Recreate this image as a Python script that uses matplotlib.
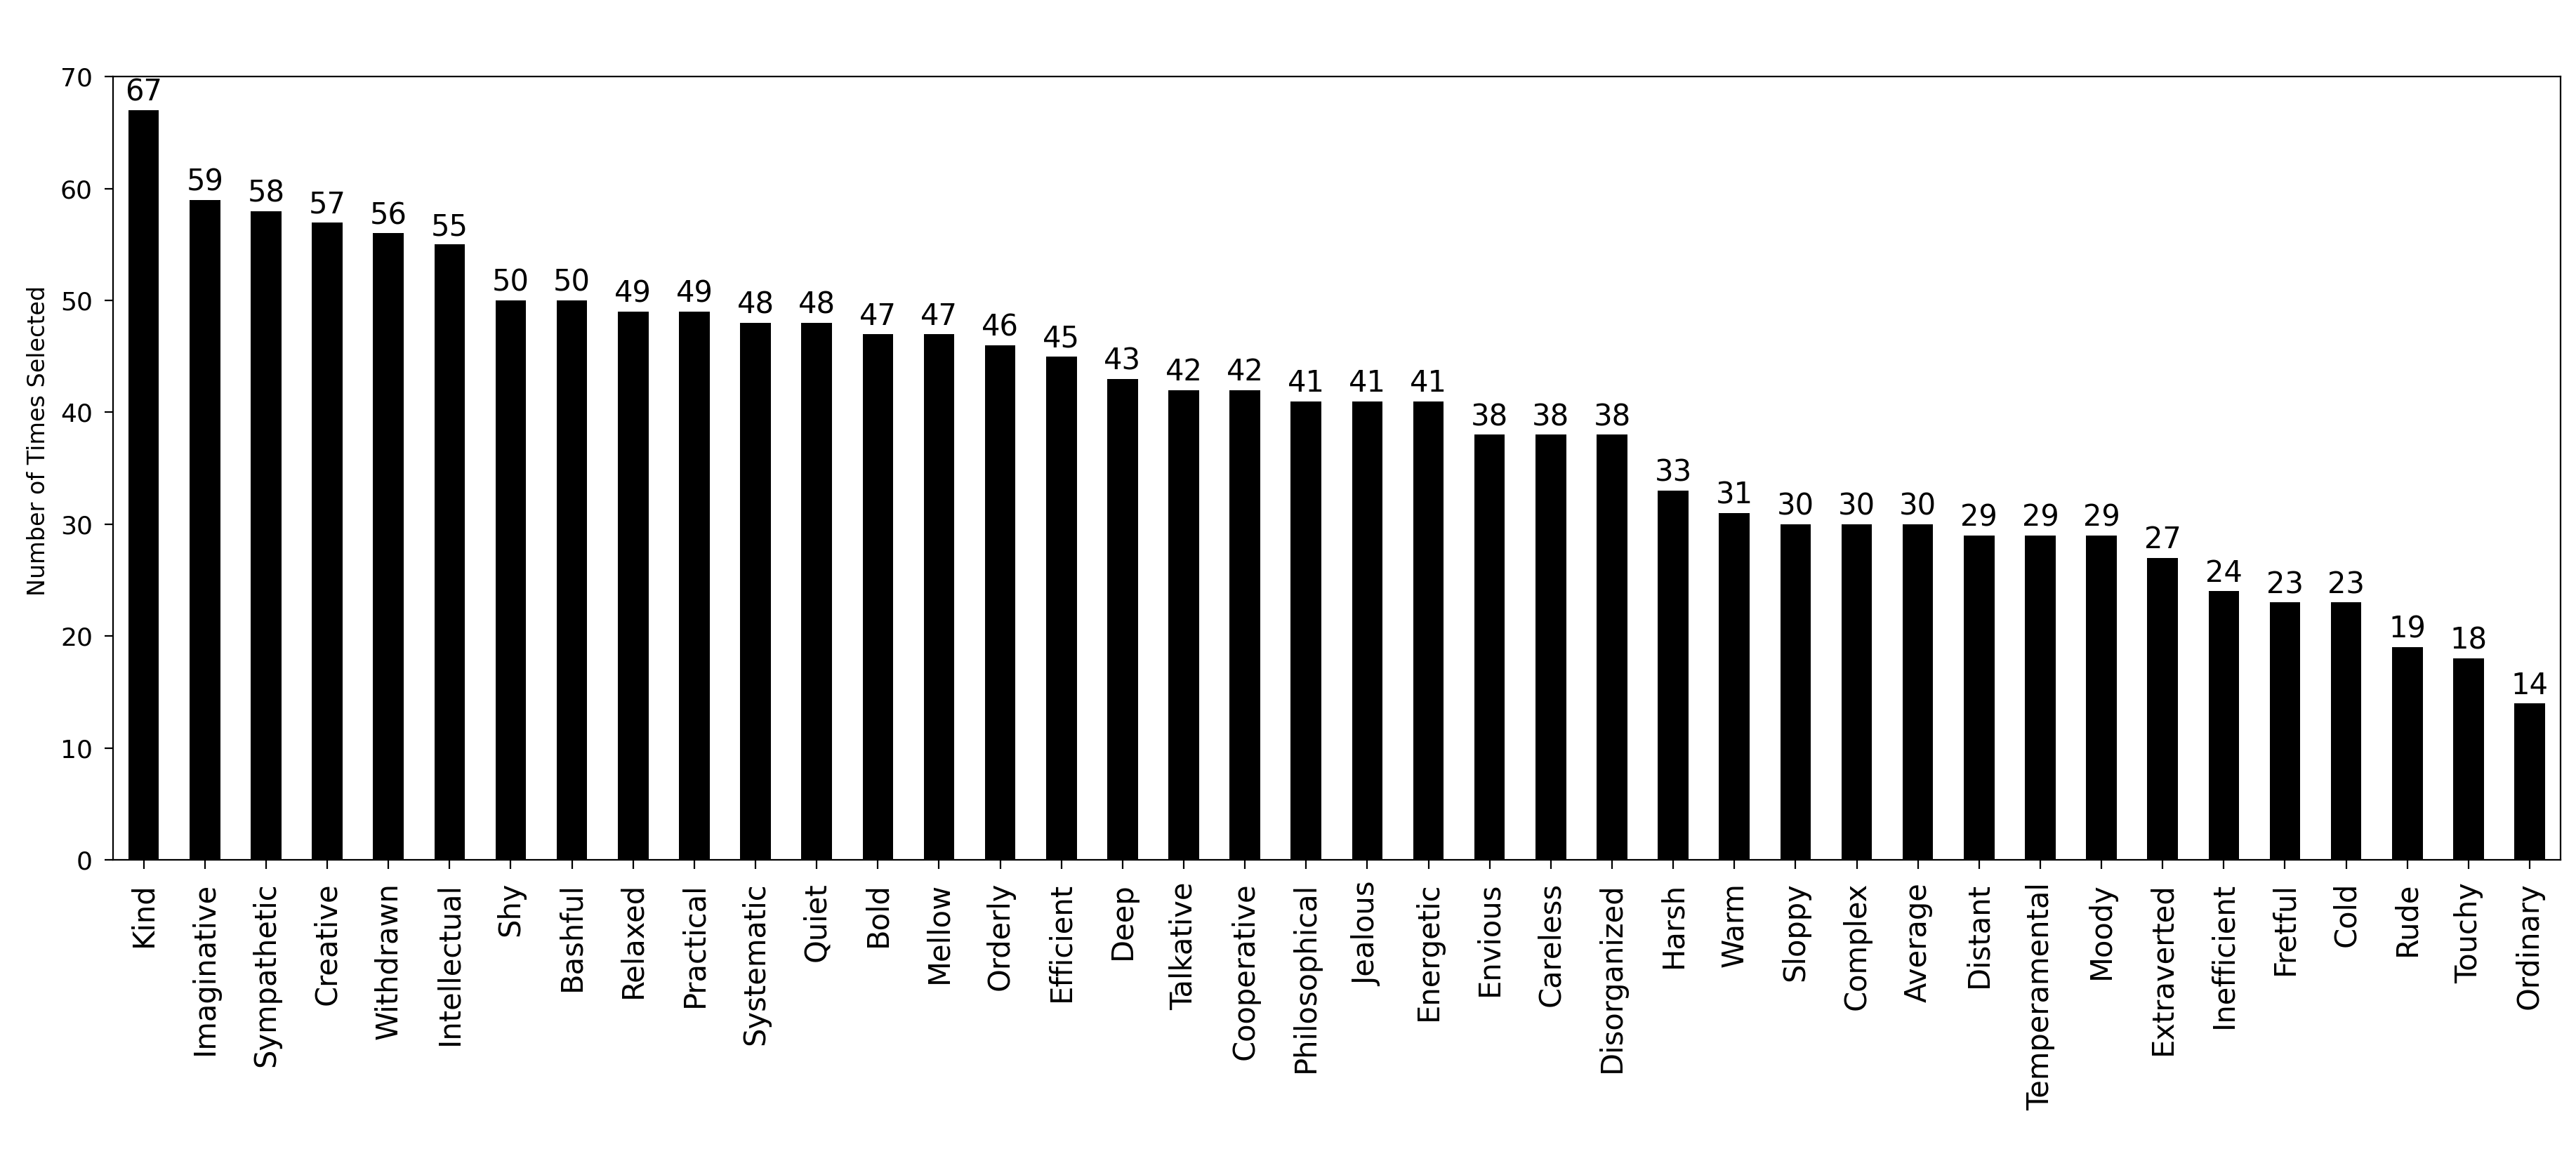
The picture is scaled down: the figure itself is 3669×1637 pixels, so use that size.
#!/usr/bin/env python3
"""Bar chart: number of times each adjective was selected."""
import matplotlib
matplotlib.use("Agg")
import matplotlib.pyplot as plt

DPI = 200

adjectives = [
    "Kind", "Imaginative", "Sympathetic", "Creative", "Withdrawn", "Intellectual",
    "Shy", "Bashful", "Relaxed", "Practical", "Systematic", "Quiet", "Bold",
    "Mellow", "Orderly", "Efficient", "Deep", "Talkative", "Cooperative",
    "Philosophical", "Jealous", "Energetic", "Envious", "Careless", "Disorganized",
    "Harsh", "Warm", "Sloppy", "Complex", "Average", "Distant", "Temperamental",
    "Moody", "Extraverted", "Inefficient", "Fretful", "Cold", "Rude", "Touchy",
    "Ordinary",
]
counts = [
    67, 59, 58, 57, 56, 55, 50, 50, 49, 49, 48, 48, 47, 47, 46, 45, 43, 42, 42,
    41, 41, 41, 38, 38, 38, 33, 31, 30, 30, 30, 29, 29, 29, 27, 24, 23, 23, 19,
    18, 14,
]
yticks = [0, 10, 20, 30, 40, 50, 60, 70]


def main():
    plt.rcParams["font.family"] = ["DejaVu Sans"]
    fig = plt.figure(figsize=(3669 / DPI, 1637 / DPI), dpi=DPI)
    ax = fig.add_axes([0.0439, 0.2517, 0.9939 - 0.0439, 0.9332 - 0.2517])

    x = list(range(len(adjectives)))
    bars = ax.bar(x, counts, width=0.5, color="black")
    ax.bar_label(bars, labels=[str(c) for c in counts], padding=1.5, fontsize=15)

    ax.set_xlim(-0.5, len(adjectives) - 0.5)
    ax.set_ylim(0, 70)
    ax.set_yticks(yticks)
    ax.set_xticks(x)
    ax.set_xticklabels(adjectives, rotation=90, fontsize=15)
    ax.tick_params(axis="y", labelsize=13, length=4.5, width=0.8, pad=6)
    ax.tick_params(axis="x", length=4.5, width=0.8, pad=7)

    ax.set_ylabel("Number of Times Selected", fontsize=12)
    ax.yaxis.set_label_coords(-0.0258, 0.535)

    fig.savefig("out.png", dpi=DPI, facecolor="white")
    plt.close(fig)


if __name__ == "__main__":
    main()
